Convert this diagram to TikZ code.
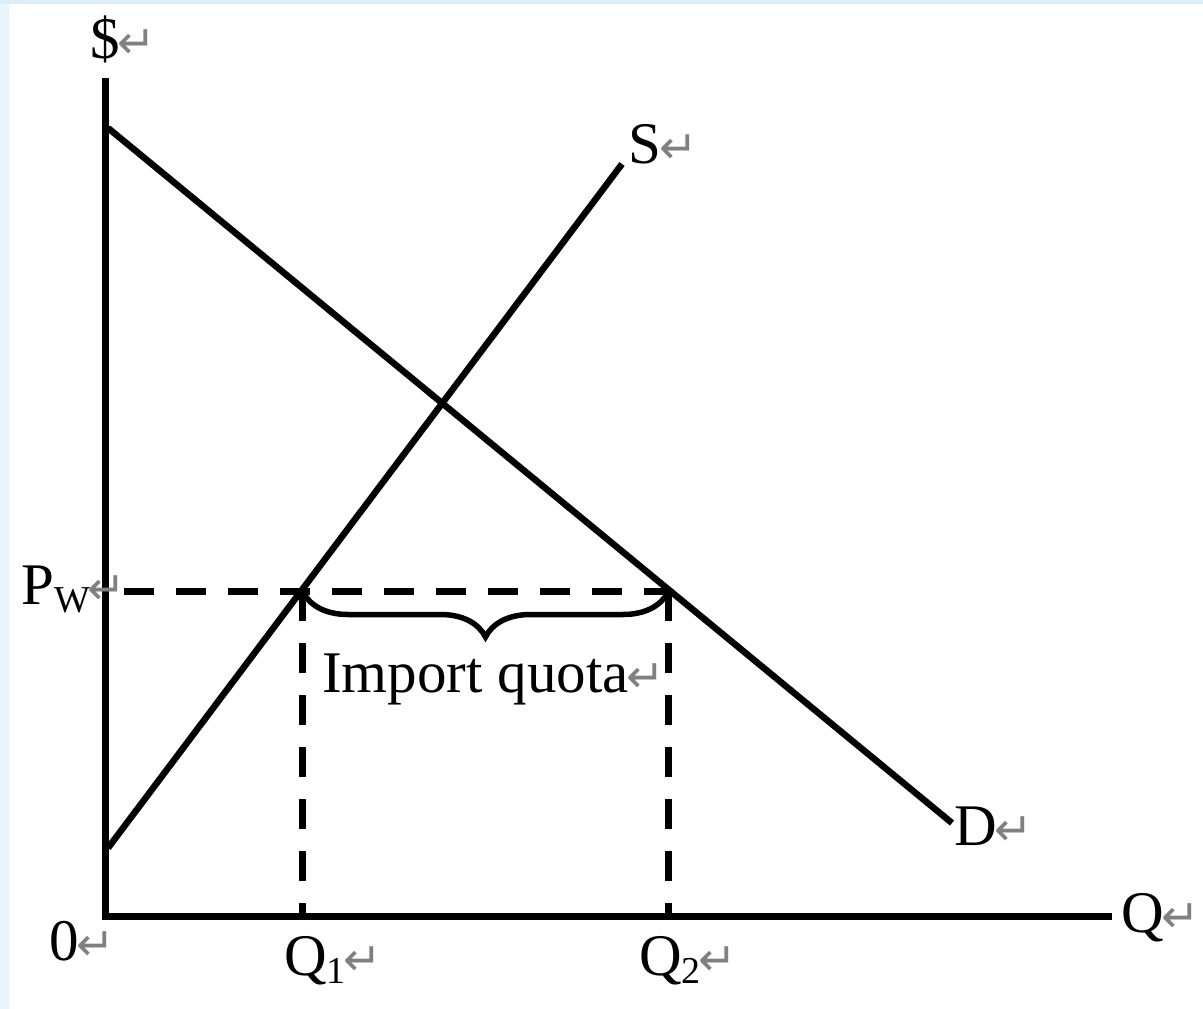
\documentclass[tikz,border=0pt]{standalone}
\usepackage{fontspec}
\setmainfont{Liberation Serif}
\newfontfamily\dejavu{DejaVu Sans}
\usetikzlibrary{decorations.pathreplacing}
\definecolor{bgtop}{HTML}{DDEEFA}
\definecolor{bgleft}{HTML}{E9F5FD}
\definecolor{markgray}{HTML}{808080}
\newcommand\pmark{{\color{markgray}\dejavu\fontsize{46}{46}\selectfont\kern-2pt ↵}}
\newcommand\lowsub[1]{\raisebox{-8pt}{\fontsize{38}{38}\selectfont #1}}
\begin{document}
\begin{tikzpicture}[x=1pt,y=-1pt,
  lbl/.style={inner sep=0pt, anchor=base west, font=\fontsize{59}{59}\selectfont},
  curve/.style={line width=6.5pt},
  axisline/.style={line width=7pt},
  guide/.style={line width=7pt, dash pattern=on 30pt off 22pt},
  bracestyle/.style={line width=5.5pt, decorate, decoration={brace, mirror, amplitude=45pt}}]
\useasboundingbox (0,0) rectangle (1203,1009);
\fill[bgleft] (0,0) rectangle (9,1009);
\fill[bgtop] (0,0) rectangle (1203,4);
% coordinates
\coordinate (ytop) at (105.5,78);
\coordinate (xend) at (1112,916.5);
\coordinate (d0) at (108,128);
\coordinate (d1) at (952,823);
\coordinate (s0) at (108,848);
\coordinate (s1) at (622,164);
\coordinate (pw0) at (124,591);
\coordinate (e1) at (302,591);
\coordinate (e2) at (668,591);
\coordinate (q1) at (302,916.5);
\coordinate (q2) at (668,916.5);
% axes
\draw[axisline] (ytop) |- (xend);
% curves
\draw[curve] (d0) -- (d1);
\draw[curve] (s0) -- (s1);
% guides
\draw[guide] (pw0) -- (e2);
\draw[guide] (e1) -- (q1);
\draw[guide] (e2) -- (q2);
% brace
\draw[bracestyle] (303,592) -- (668,592);
% labels
\node[lbl] (ylab) at (90,58) {\$\pmark};
\node[lbl] (slab) at (628,163) {S\pmark};
\node[lbl] (dlab) at (954,845) {D\pmark};
\node[lbl] (qlab) at (1121,932) {Q\pmark};
\node[lbl] (zero) at (49,960) {0\pmark};
\node[lbl] (q1lab) at (284,975) {Q\lowsub{1}\pmark};
\node[lbl] (q2lab) at (639,975) {Q\lowsub{2}\pmark};
\node[lbl] (pwlab) at (21,604) {P\lowsub{W}\pmark};
\node[lbl] (quota) at (322,692) {Import quota\pmark};
\end{tikzpicture}
\end{document}
